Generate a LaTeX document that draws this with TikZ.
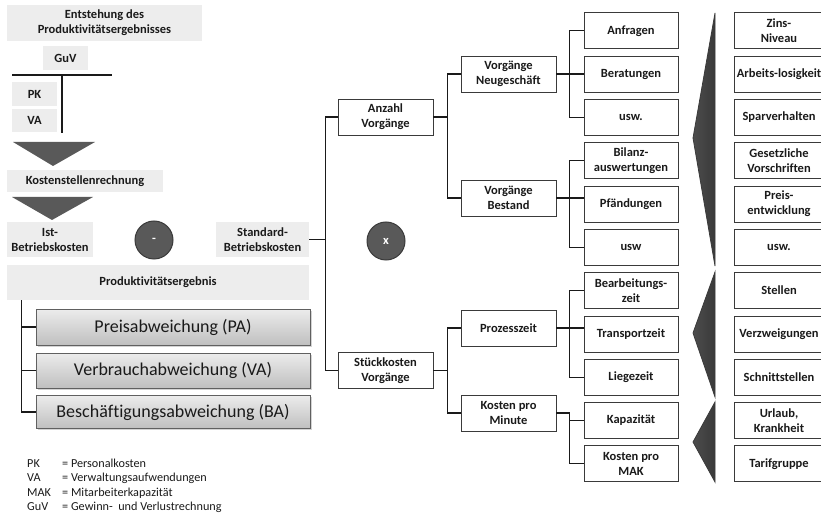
\documentclass[tikz,border=0pt]{standalone}
\usepackage{fontspec}
\setmainfont{Carlito}[Ligatures=NoCommon]
\usetikzlibrary{shadows}

\definecolor{lbl}{HTML}{EDEDED}
\definecolor{dk}{HTML}{595959}
\definecolor{edge}{HTML}{3A3A3A}
\definecolor{ink}{HTML}{1A1A1A}

\tikzset{
  lab/.style={fill=lbl, inner sep=0pt, align=center, text=ink,
    font=\bfseries\fontsize{12.5}{15}\selectfont},
  box/.style={draw=edge, line width=0.8pt, fill=white, inner sep=0pt,
    minimum width=95, minimum height=36, align=center, text=ink,
    font=\bfseries\fontsize{12.5}{15}\selectfont},
  rbox/.style={box, minimum width=90},
  conn/.style={line width=1.3pt, draw=ink},
  dev/.style={draw=gray!75!black, line width=0.6pt, top color=gray!15, bottom color=gray!50,
    drop shadow={opacity=0.35, shadow xshift=1.5pt, shadow yshift=-1.5pt},
    minimum width=274, inner sep=0pt, text=ink, font=\fontsize{18}{21}\selectfont},
  op/.style={circle, fill=dk, draw=edge, line width=1pt, minimum size=38, inner sep=0pt,
    text=white, font=\bfseries\fontsize{12.5}{14}\selectfont},
  leg/.style={anchor=base west, inner sep=0pt, text=ink, font=\fontsize{12.2}{14}\selectfont},
  wedge/.style={left color=gray!60!black, right color=gray!45!black, draw=edge, line width=0.8pt}
}

\begin{document}
\begin{tikzpicture}[x=1pt, y=-1pt]
\useasboundingbox (0,0) rectangle (821,518);
\clip (0,0) rectangle (821,518);

% ---------- left column: origin of the result ----------
\node[lab, minimum width=195, minimum height=36] (ent) at (104.5,23) {Entstehung des\\Produktivitätsergebnisses};
\node[lab, minimum width=45, minimum height=24] (guv) at (65.5,58) {GuV};
\node[lab, minimum width=45, minimum height=24] (pk) at (34.5,94) {PK};
\node[lab, minimum width=45, minimum height=23] (vaa) at (34.5,120.5) {VA};
\draw[conn] (12,75) -- (112,75);
\draw[conn] (62,75) -- (62,133);
\fill[dk] (13,142) -- (95,142) -- (53,166) -- cycle;
\node[lab, minimum width=156, minimum height=22] (ksr) at (85,181) {Kostenstellenrechnung};
\fill[dk] (12,197) -- (93,197) -- (52,220) -- cycle;
\node[lab, minimum width=86, minimum height=35] (ist) at (50,239.5) {Ist-\\Betriebskosten};
\node[op] (minus) at (154,240) {-};
\node[lab, minimum width=93, minimum height=35] (std) at (262.5,239.5) {Standard-\\Betriebskosten};
\node[lab, minimum width=302, minimum height=35] (prod) at (158,282.5) {Produktivitätsergebnis};

\node[dev, minimum height=36] (pa) at (173,327) {Preisabweichung (PA)};
\node[dev, minimum height=35] (va) at (173,370.5) {Verbrauchabweichung (VA)};
\node[dev, minimum height=33] (ba) at (173,412) {Beschäftigungsabweichung (BA)};
\path (prod.south west) ++(15,0) coordinate (L0);
\draw[conn] (L0) |- (ba.west);
\draw[conn] (L0 |- pa.west) -- (pa.west);
\draw[conn] (L0 |- va.west) -- (va.west);

% legend
\node[leg] (l1a) at (27,467) {PK};  \node[leg] (l1b) at (62,467) {= Personalkosten};
\node[leg] (l2a) at (27,481.5) {VA};  \node[leg] (l2b) at (62,481.5) {= Verwaltungsaufwendungen};
\node[leg] (l3a) at (27,496) {MAK}; \node[leg] (l3b) at (62,496) {= Mitarbeiterkapazität};
\node[leg] (l4a) at (27,510.5) {GuV}; \node[leg] (l4b) at (62,510.5) {= Gewinn-\ \ und Verlustrechnung};

% ---------- standard costs tree ----------
\node[op] (times) at (386,241) {x};
\node[box] (anz) at (385.5,117) {Anzahl\\Vorgänge};
\node[box] (stk) at (385.5,370.5) {Stückkosten\\Vorgänge};

\node[box] (neu) at (508.5,74) {Vorgänge\\Neugeschäft};
\node[box] (bes) at (508.5,198) {Vorgänge\\Bestand};
\node[box] (pro) at (508.5,328) {Prozesszeit};
\node[box] (kpm) at (508.5,413) {Kosten pro\\Minute};

\node[box, minimum width=94] (anf) at (631,30.8) {Anfragen};
\node[box, minimum width=94] (ber) at (631,74.1) {Beratungen};
\node[box, minimum width=94] (usa) at (631,117.4) {usw.};
\node[box, minimum width=94] (bil) at (631,160.7) {Bilanz-\\auswertungen};
\node[box, minimum width=94] (pfa) at (631,204.0) {Pfändungen};
\node[box, minimum width=94] (usb) at (631,247.3) {usw};
\node[box, minimum width=94] (bea) at (631,290.6) {Bearbeitungs-\\zeit};
\node[box, minimum width=94] (tra) at (631,333.9) {Transportzeit};
\node[box, minimum width=94] (lie) at (631,377.2) {Liegezeit};
\node[box, minimum width=94] (kap) at (631,420.5) {Kapazität};
\node[box, minimum width=94] (mak) at (631,463.8) {Kosten pro\\MAK};

% influencing factors
\node[rbox] (zin) at (779,30.8) {Zins-\\Niveau};
\node[rbox] (arb) at (779,74.1) {Arbeits-losigkeit};
\node[rbox] (spa) at (779,117.4) {Sparverhalten};
\node[rbox] (ges) at (779,160.7) {Gesetzliche\\Vorschriften};
\node[rbox] (pre) at (779,204.0) {Preis-\\entwicklung};
\node[rbox] (usc) at (779,247.3) {usw.};
\node[rbox] (ste) at (779,290.6) {Stellen};
\node[rbox] (ver) at (779,333.9) {Verzweigungen};
\node[rbox] (sch) at (779,377.2) {Schnittstellen};
\node[rbox] (url) at (779,420.5) {Urlaub,\\Krankheit};
\node[rbox] (tar) at (779,463.8) {Tarifgruppe};

\shade[wedge] (715,13) -- (715,266) -- (693,138) -- cycle;
\shade[wedge] (715,272) -- (715,397) -- (693,333) -- cycle;
\shade[wedge] (715,402) -- (715,482) -- (693,442) -- cycle;

% connectors
\path (std.east) ++(16,0) coordinate (s0);
\draw[conn] (std.east) -- (s0);
\draw[conn] (anz.west) -| (s0) |- (stk.west);

\path (anz.east) ++(14,0) coordinate (a0);
\draw[conn] (anz.east) -- (a0);
\draw[conn] (neu.west) -| (a0) |- (bes.west);

\path (stk.east) ++(14,0) coordinate (k0);
\draw[conn] (stk.east) -- (k0);
\draw[conn] (pro.west) -| (k0) |- (kpm.west);

\path (neu.east) ++(13,0) coordinate (n0);
\draw[conn] (neu.east) -- (neu.east -| ber.west);
\draw[conn] (anf.west) -| (n0) |- (usa.west);

\path (bes.east) ++(13,0) coordinate (b0);
\draw[conn] (bes.east) -- (bes.east -| pfa.west);
\draw[conn] (bil.west) -| (b0) |- (usb.west);

\path (pro.east) ++(13,0) coordinate (p0);
\draw[conn] (pro.east) -- (pro.east -| tra.west);
\draw[conn] (bea.west) -| (p0) |- (lie.west);

\path (kpm.east) ++(13,0) coordinate (m0);
\draw[conn] (kpm.east) -- (m0) |- (mak.west);
\draw[conn] (m0 |- kap.west) -- (kap.west);
\end{tikzpicture}
\end{document}
